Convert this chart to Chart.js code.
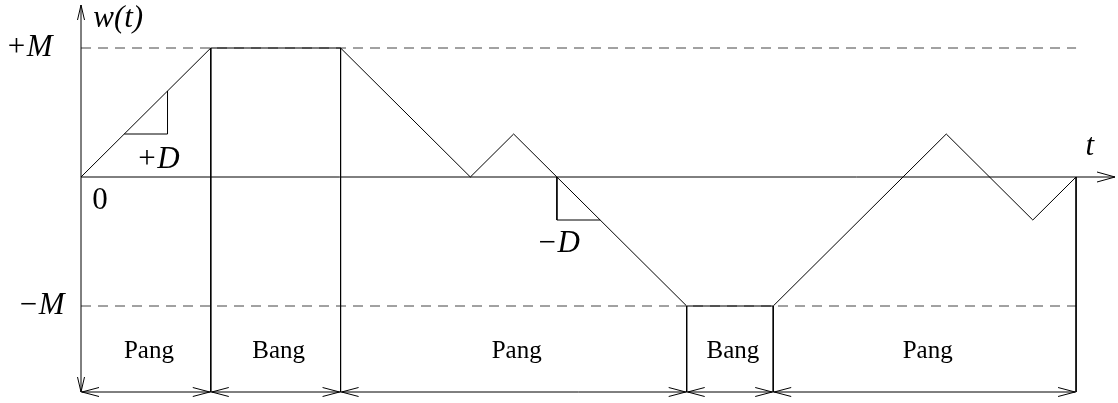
<!DOCTYPE html>
<html>
<head>
<meta charset="utf-8">
<script src="https://cdn.jsdelivr.net/npm/chart.js@4"></script>
<style>
  html, body { margin: 0; padding: 0; background: #fff; }
  #wrap { width: 1118px; height: 403px; }
</style>
</head>
<body>
<div id="wrap"><canvas id="pangbang"></canvas></div>
<script>
'use strict';

/* DATA (time in units of the slope step, w in units of M/3) */
const tKnots = [0, 3, 6, 9, 10, 11, 14, 16, 20, 22, 23];
const wKnots = [0, 3, 3, 0, 1, 0, -3, -3, 1, -1, 0];
const M = 3;
const tEnd = 23;
const phaseBounds = [0, 3, 6, 14, 16, 23];
const phaseNames = ['Pang', 'Bang', 'Pang', 'Bang', 'Pang'];
const plusDTri = [[1, 1], [2, 1], [2, 2]];
const minusDTri = [[11, 0], [11, -1], [12, -1]];

/* AXIS RANGE */
const tMax = 23.9;
const wMin = -5, wMax = 4;

/* math labels, placed in data coords */
const mathLabels = [
  { text: 'w(t)', t: 0.86, w: 3.67 },
  { text: '+M', t: -1.2, w: 3.0 },
  { text: '\u2212M', t: -0.92, w: -3.0 },
  { text: '0', t: 0.44, w: -0.55 },
  { text: '+D', t: 1.78, w: 0.4 },
  { text: '\u2212D', t: 11.03, w: -1.55 },
  { text: 't', t: 23.32, w: 0.7 }
];
const phaseLabelW = -4.05;

function waveAt(t) {
  const i = tKnots.indexOf(t);
  return i >= 0 ? wKnots[i] : 0;
}

function seg(points, extra) {
  return Object.assign({
    data: points.map(p => ({ x: p[0], y: p[1] })),
    showLine: true,
    borderColor: '#000',
    borderWidth: 1,
    pointRadius: 0,
    clip: false,
    tension: 0
  }, extra || {});
}

const datasets = [
  seg(tKnots.map((t, i) => [t, wKnots[i]])),
  seg([[0, 0], [tMax, 0]]),
  seg([[0, wMin], [0, wMax]]),
  seg(plusDTri),
  seg(minusDTri),
  seg([[0, wMin], [tEnd, wMin]])
];
phaseBounds.slice(1).forEach(b => datasets.push(seg([[b, waveAt(b)], [b, wMin]])));
datasets.push(seg([[0, M], [tEnd, M]], { borderColor: '#444', borderDash: [10, 7] }));
datasets.push(seg([[0, -M], [tEnd, -M]], { borderColor: '#444', borderDash: [10, 7] }));

/* arrowheads + text */
function head(ctx, x, y, dx, dy, len, hw) {
  const nx = -dy, ny = dx;
  ctx.beginPath();
  ctx.moveTo(x - dx * len + nx * hw, y - dy * len + ny * hw);
  ctx.lineTo(x, y);
  ctx.lineTo(x - dx * len - nx * hw, y - dy * len - ny * hw);
  ctx.stroke();
}

const annotate = {
  id: 'annotate',
  afterDatasetsDraw(chart) {
    const ctx = chart.ctx;
    const xs = chart.scales.x, ys = chart.scales.y;
    const px = t => xs.getPixelForValue(t), py = w => ys.getPixelForValue(w);
    ctx.save();
    ctx.strokeStyle = '#000';
    ctx.lineWidth = 1;
    // axis arrows
    head(ctx, px(0), py(wMax), 0, -1, 15, 3.5);
    head(ctx, px(0), py(wMin), 0, 1, 15, 3.5);
    head(ctx, px(tMax), py(0), 1, 0, 18, 5);
    // dimension arrows
    for (let i = 0; i < phaseNames.length; i++) {
      const a = px(phaseBounds[i]), b = px(phaseBounds[i + 1]), y = py(wMin);
      head(ctx, a + 1, y, -1, 0, 17, 4.5);
      head(ctx, b - 1, y, 1, 0, 17, 4.5);
    }
    ctx.fillStyle = '#000';
    ctx.textAlign = 'center';
    ctx.textBaseline = 'middle';
    ctx.font = '25px "Liberation Serif", "Times New Roman", serif';
    for (let i = 0; i < phaseNames.length; i++) {
      const mid = (phaseBounds[i] + phaseBounds[i + 1]) / 2;
      ctx.fillText(phaseNames[i], px(mid) + 3, py(phaseLabelW));
    }
    mathLabels.forEach(l => {
      ctx.font = (l.text === '0' ? '' : 'italic ') + '31px "Liberation Serif", "Times New Roman", serif';
      ctx.fillText(l.text, px(l.t), py(l.w));
    });
    ctx.restore();
  }
};

new Chart(document.getElementById('pangbang'), {
  type: 'scatter',
  data: { datasets },
  options: {
    responsive: true,
    maintainAspectRatio: false,
    animation: false,
    layout: { padding: { left: 81, right: 3, top: 5, bottom: 11 } },
    plugins: { legend: { display: false }, tooltip: { enabled: false } },
    scales: {
      x: { type: 'linear', min: 0, max: tMax, display: false },
      y: { type: 'linear', min: wMin, max: wMax, display: false }
    }
  },
  plugins: [annotate]
});
</script>
</body>
</html>
